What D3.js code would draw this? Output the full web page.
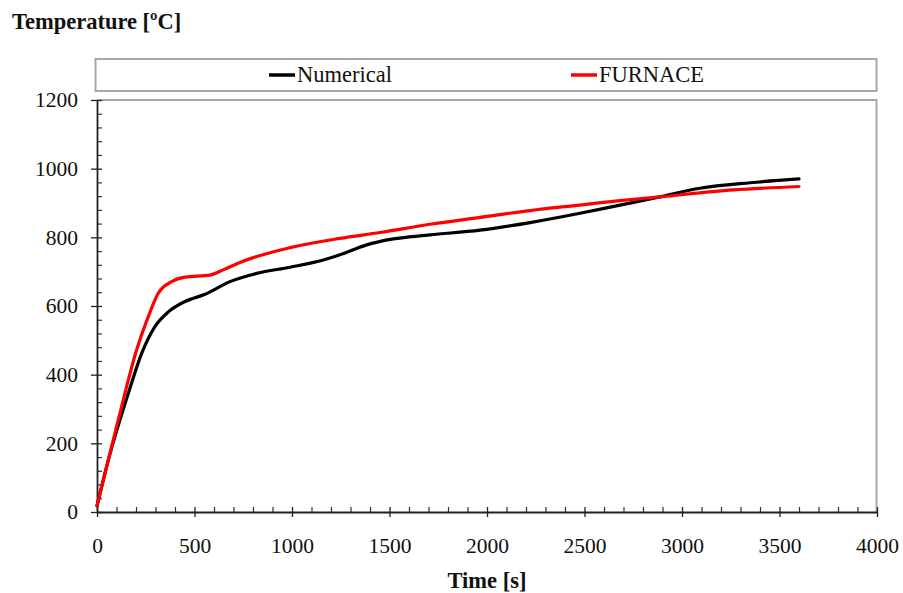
<!DOCTYPE html>
<html>
<head>
<meta charset="utf-8">
<script src="https://cdn.jsdelivr.net/npm/d3@7/dist/d3.min.js"></script>
<style>
  html, body { margin: 0; padding: 0; background: #fff; }
  svg { display: block; }
  text { font-family: "Liberation Serif", "Times New Roman", serif; fill: #111; }
</style>
</head>
<body>
<svg id="chart" width="903" height="593"></svg>
<script>
// Temperature histories: numerical model vs. furnace measurement
const numericalTime = [0, 58, 161, 229, 297, 366, 451, 554, 682, 819, 990, 1161, 1246, 1383, 1503, 1708, 1964, 2221, 2477, 2682, 2887, 3092, 3349, 3600];
const numericalTemp = [18, 151, 346, 462, 540, 583, 613, 634, 671, 695, 713, 734, 749, 778, 794, 807, 821, 843, 870, 894, 918, 943, 959, 970];

const furnaceTime = [0, 109, 203, 263, 314, 383, 451, 579, 650, 733, 990, 1246, 1451, 1708, 1964, 2221, 2477, 2682, 2887, 3263, 3600];
const furnaceTemp = [18, 268, 472, 569, 637, 671, 684, 690, 706, 727, 770, 797, 814, 838, 858, 878, 894, 907, 918, 938, 948];

const xTicks = [0, 500, 1000, 1500, 2000, 2500, 3000, 3500, 4000];
const yTicks = [0, 200, 400, 600, 800, 1000, 1200];

const seriesNames = ["Numerical", "FURNACE"];
const seriesColors = ["#000000", "#ff0000"];

const svg = d3.select("#chart");
const plotLeft = 97, plotRight = 877, plotTop = 100, plotBottom = 512;

const x = d3.scaleLinear().domain([0, 4000]).range([plotLeft, plotRight]);
const y = d3.scaleLinear().domain([0, 1200]).range([plotBottom, plotTop]);

// plot frame (top and right edges)
svg.append("path")
  .attr("d", `M${plotLeft},${plotTop}H${plotRight - 0.5}V${plotBottom}`)
  .attr("fill", "none").attr("stroke", "#a8a8a8").attr("stroke-width", 2);

// minor ticks
const xMinor = d3.range(0, 4001, 100).filter(v => v % 500 !== 0);
const yMinor = d3.range(0, 1201, 40).filter(v => v % 200 !== 0);

svg.append("g").attr("transform", `translate(0,${plotBottom})`)
  .call(d3.axisTop(x).tickValues(xMinor).tickSize(5).tickFormat(""))
  .call(g => g.select(".domain").remove())
  .selectAll("line").attr("stroke", "#333").attr("stroke-width", 1.2);

svg.append("g").attr("transform", `translate(${plotLeft},0)`)
  .call(d3.axisRight(y).tickValues(yMinor).tickSize(5).tickFormat(""))
  .call(g => g.select(".domain").remove())
  .selectAll("line").attr("stroke", "#333").attr("stroke-width", 1.2);

// major axes
const xAxis = svg.append("g").attr("transform", `translate(0,${plotBottom})`)
  .call(d3.axisBottom(x).tickValues(xTicks).tickSizeInner(5).tickSizeOuter(0).tickPadding(21).tickFormat(d3.format("d")));
xAxis.select(".domain").attr("stroke", "#222").attr("stroke-width", 1.8);
xAxis.selectAll(".tick line").attr("y1", -5).attr("stroke", "#222").attr("stroke-width", 1.3);
xAxis.selectAll("text").attr("font-size", 21.5).attr("fill", "#111")
  .attr("font-family", "Liberation Serif, serif");

const yAxis = svg.append("g").attr("transform", `translate(${plotLeft},0)`)
  .call(d3.axisLeft(y).tickValues(yTicks).tickSizeInner(6).tickSizeOuter(0).tickPadding(13).tickFormat(d3.format("d")));
yAxis.select(".domain").attr("stroke", "#222").attr("stroke-width", 1.8);
yAxis.selectAll(".tick line").attr("x1", 5).attr("x2", -6).attr("stroke", "#222").attr("stroke-width", 1.3);
yAxis.selectAll("text").attr("font-size", 21.5).attr("fill", "#111")
  .attr("font-family", "Liberation Serif, serif");

// curves
const line = d3.line().x(d => x(d[0])).y(d => y(d[1])).curve(d3.curveMonotoneX);
const series = [
  d3.zip(numericalTime, numericalTemp),
  d3.zip(furnaceTime, furnaceTemp)
];
series.forEach((pts, i) => {
  svg.append("path").datum(pts)
    .attr("d", line)
    .attr("fill", "none")
    .attr("stroke", seriesColors[i])
    .attr("stroke-width", 3.2)
    .attr("stroke-linejoin", "round")
    .attr("stroke-linecap", "round");
});

// legend box
svg.append("rect")
  .attr("x", 95.5).attr("y", 59).attr("width", 781).attr("height", 32)
  .attr("fill", "#fff").attr("stroke", "#a8a8a8").attr("stroke-width", 2);

const legendX = [269, 571];
seriesNames.forEach((name, i) => {
  svg.append("line")
    .attr("x1", legendX[i]).attr("x2", legendX[i] + 26)
    .attr("y1", 75).attr("y2", 75)
    .attr("stroke", seriesColors[i]).attr("stroke-width", 3.5);
  svg.append("text")
    .attr("x", legendX[i] + 28).attr("y", 82)
    .attr("font-size", 22.5)
    .text(name);
});

// axis titles
svg.append("text")
  .attr("x", 12).attr("y", 29)
  .attr("font-size", 22.5).attr("font-weight", "bold")
  .text("Temperature [ºC]");

svg.append("text")
  .attr("x", 487).attr("y", 588)
  .attr("text-anchor", "middle")
  .attr("font-size", 22.5).attr("font-weight", "bold")
  .text("Time [s]");
</script>
</body>
</html>
